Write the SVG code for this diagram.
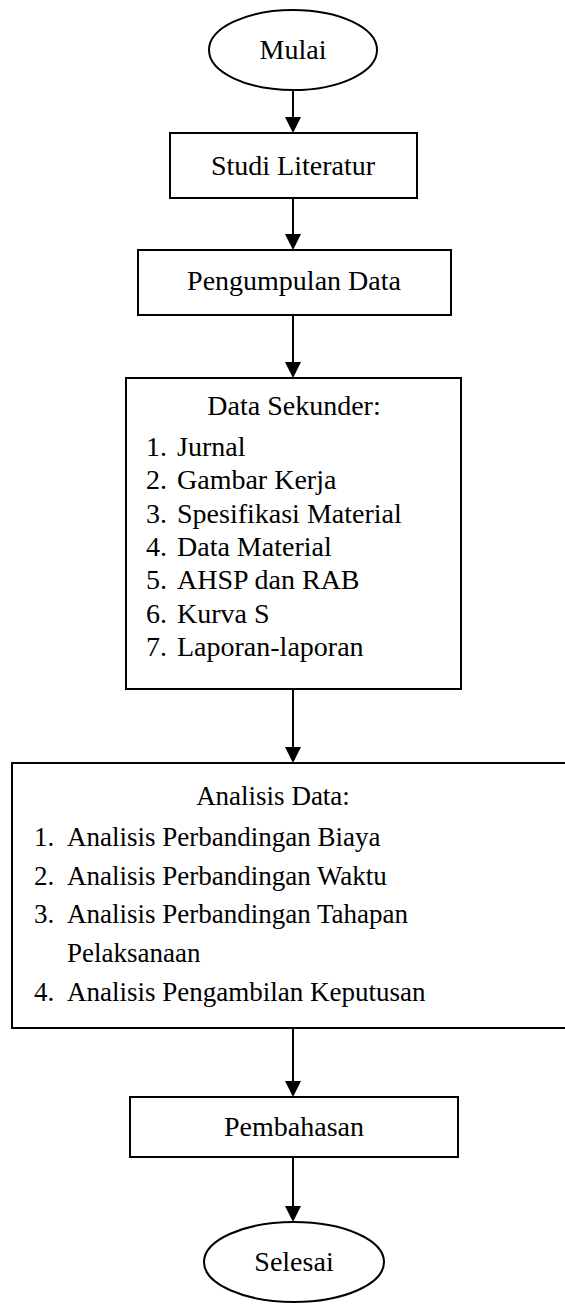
<svg xmlns="http://www.w3.org/2000/svg" width="565" height="1304" viewBox="0 0 565 1304">
<style>
.s{fill:#fff;stroke:#000;stroke-width:2}
.t{font-family:"Liberation Serif","Times New Roman",serif;font-size:28px;fill:#000}
.c{text-anchor:middle}
.a{font-size:27px}
.l{stroke:#000;stroke-width:2;fill:none}
</style>
<rect width="565" height="1304" fill="#fff"/>
<g id="connectors">
<line class="l" x1="293" y1="90" x2="293" y2="117"/><polygon points="285,117 301,117 293,133"/>
<line class="l" x1="293" y1="198" x2="293" y2="234"/><polygon points="285,234 301,234 293,250"/>
<line class="l" x1="293" y1="315" x2="293" y2="362"/><polygon points="285,362 301,362 293,378"/>
<line class="l" x1="293" y1="689" x2="293" y2="747"/><polygon points="285,747 301,747 293,763"/>
<line class="l" x1="293" y1="1028" x2="293" y2="1081"/><polygon points="285,1081 301,1081 293,1097"/>
<line class="l" x1="293" y1="1157" x2="293" y2="1206"/><polygon points="285,1206 301,1206 293,1222"/>
</g>
<g id="mulai"><ellipse class="s" cx="293" cy="50" rx="84" ry="40"/><text class="t c" x="293" y="59">Mulai</text></g>
<g id="studi"><rect class="s" x="170" y="133" width="247" height="65"/><text class="t c" x="293" y="175">Studi Literatur</text></g>
<g id="pengumpulan"><rect class="s" x="138" y="250" width="313" height="65"/><text class="t c" x="294" y="290">Pengumpulan Data</text></g>
<g id="sekunder"><rect class="s" x="126" y="378" width="335" height="311"/>
<text class="t c" x="294" y="415">Data Sekunder:</text>
<text class="t" x="146" y="456">1.</text><text class="t" x="177" y="456">Jurnal</text>
<text class="t" x="146" y="489">2.</text><text class="t" x="177" y="489">Gambar Kerja</text>
<text class="t" x="146" y="523">3.</text><text class="t" x="177" y="523">Spesifikasi Material</text>
<text class="t" x="146" y="556">4.</text><text class="t" x="177" y="556">Data Material</text>
<text class="t" x="146" y="589">5.</text><text class="t" x="177" y="589">AHSP dan RAB</text>
<text class="t" x="146" y="623">6.</text><text class="t" x="177" y="623">Kurva S</text>
<text class="t" x="146" y="656">7.</text><text class="t" x="177" y="656">Laporan-laporan</text>
</g>
<g id="analisis"><rect class="s" x="12" y="763" width="570" height="265"/>
<text class="t a c" x="273" y="805">Analisis Data:</text>
<text class="t a" x="34" y="846">1.</text><text class="t a" x="67" y="846">Analisis Perbandingan Biaya</text>
<text class="t a" x="34" y="885">2.</text><text class="t a" x="67" y="885">Analisis Perbandingan Waktu</text>
<text class="t a" x="34" y="923">3.</text><text class="t a" x="67" y="923">Analisis Perbandingan Tahapan</text>
<text class="t a" x="67" y="962">Pelaksanaan</text>
<text class="t a" x="34" y="1001">4.</text><text class="t a" x="67" y="1001">Analisis Pengambilan Keputusan</text>
</g>
<g id="pembahasan"><rect class="s" x="130" y="1097" width="328" height="60"/><text class="t c" x="294" y="1136">Pembahasan</text></g>
<g id="selesai"><ellipse class="s" cx="294" cy="1262" rx="90" ry="40"/><text class="t c" x="294" y="1271">Selesai</text></g>
</svg>
